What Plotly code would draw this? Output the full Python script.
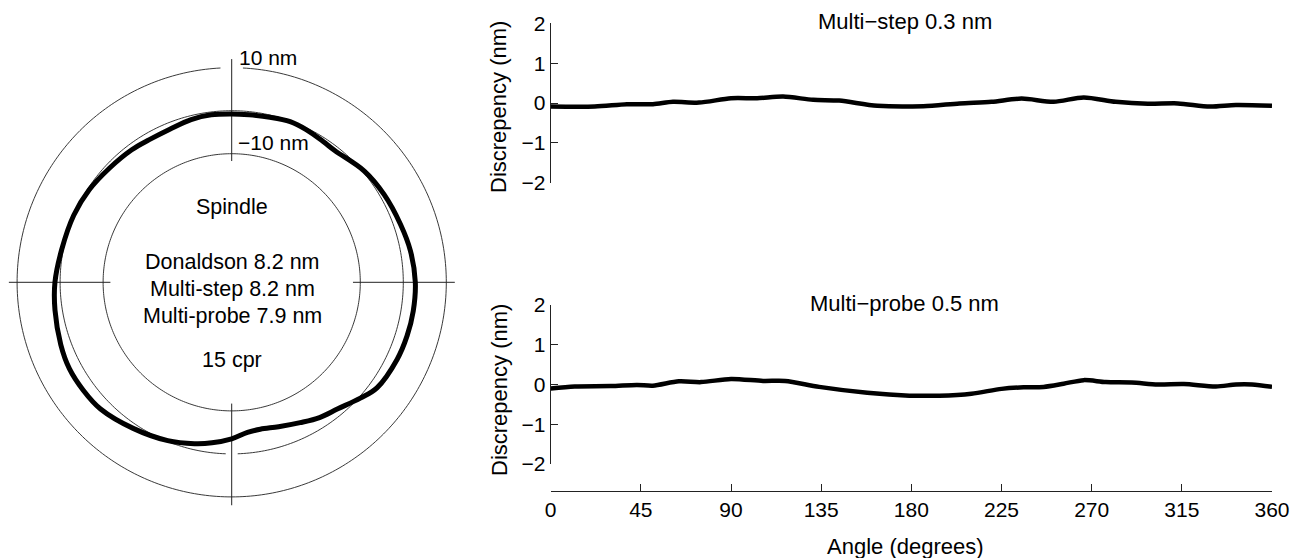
import plotly.graph_objects as go

# The page is shown with the browser's default 8 px body margin, so the
# figure is sized to the remaining area and positions are offset by 8 px.
OFF = 8
W, H = 1298 - OFF, 558 - OFF
FONT = "Liberation Sans, Arial, Helvetica, sans-serif"

# ---------------- data ----------------
# Spindle error profile (polar plot), angle in degrees, error in nm
profile_theta = [0, 10, 19, 30, 40, 52, 57, 64, 70, 77, 84, 90, 97, 104, 112, 120,
                 127, 137, 147, 157, 169, 180, 189, 200, 208, 216, 224, 236, 248,
                 257, 263, 270, 276, 281, 288, 296, 303, 310, 318, 324, 335, 343,
                 351, 360]
profile_err = [2.8, 2.3, 1.6, 1.0, 0.35, -1.0, -0.86, -0.4, -0.15, -0.5, -0.74,
               -0.74, -0.65, -0.9, -1.5, -1.6, -1.3, -1.0, -0.4, 0.0, 0.35, 1.2,
               1.7, 2.4, 2.85, 2.77, 2.5, 1.07, -0.2, -1.4, -2.3, -3.5, -4.8, -5.1,
               -4.6, -3.6, -2.4, -1.5, 0.35, 1.85, 2.53, 2.74, 2.84, 2.8]

ref_circles = [-10, 0, 10]          # nm reference circles
circle_gaps = {10: (87, 93), 0: (268, 272)}   # small breaks seen in the circles
cross_angles = [0, 90, 180, 270]    # crosshair directions
cross_r = [-11.7, 12]               # crosshair extent (nm)

# Multi-step discrepancy
ms_angle = [0, 22, 38, 51, 61, 74, 90, 103, 116, 131, 144, 163, 186, 204, 220,
            235, 251, 266, 282, 298, 313, 329, 342, 360]
ms_disc = [-0.09, -0.09, -0.03, -0.03, 0.03, 0.01, 0.12, 0.12, 0.16, 0.08, 0.06,
           -0.07, -0.08, -0.01, 0.03, 0.11, 0.03, 0.14, 0.03, -0.02, -0.01, -0.09,
           -0.05, -0.07]

# Multi-probe discrepancy
mp_angle = [0, 12, 30, 43, 51, 64, 75, 90, 106, 117, 134, 158, 179, 194, 210, 225,
            236, 246, 256, 266, 277, 290, 303, 316, 332, 342, 350, 360]
mp_disc = [-0.1, -0.05, -0.04, -0.01, -0.03, 0.08, 0.06, 0.14, 0.09, 0.09, -0.06,
           -0.21, -0.28, -0.28, -0.23, -0.11, -0.07, -0.06, 0.02, 0.11, 0.06, 0.05,
           0.0, 0.01, -0.05, 0.0, 0.0, -0.06]

x_ticks = [0, 45, 90, 135, 180, 225, 270, 315, 360]
y_ticks = [-2, -1, 0, 1, 2]

# ---------------- helpers (screen pixel -> paper) ----------------
def px(x):
    return (x - OFF) / W

def py(y):
    return 1 - (y - OFF) / H

fig = go.Figure()

for rc in ref_circles:
    g0, g1 = circle_gaps.get(rc, (None, None))
    th, rr = [], []
    for t in range(0, 361):
        if g0 is not None and g0 < t < g1:
            if th and th[-1] is not None:
                th.append(None)
                rr.append(None)
            continue
        th.append(t)
        rr.append(rc)
    fig.add_trace(go.Scatterpolar(theta=th, r=rr, mode="lines", connectgaps=False,
                                  line=dict(color="#222", width=0.9),
                                  hoverinfo="skip", showlegend=False, subplot="polar"))
for a in cross_angles:
    fig.add_trace(go.Scatterpolar(theta=[a, a], r=cross_r, mode="lines",
                                  line=dict(color="#222", width=1),
                                  hoverinfo="skip", showlegend=False, subplot="polar"))
fig.add_trace(go.Scatterpolar(theta=profile_theta, r=profile_err, mode="lines",
                              line=dict(color="black", width=5, shape="spline", smoothing=1),
                              showlegend=False, subplot="polar"))

fig.add_trace(go.Scatter(x=ms_angle, y=ms_disc, mode="lines",
                         line=dict(color="black", width=4.5, shape="spline", smoothing=0.8),
                         showlegend=False, xaxis="x", yaxis="y"))
fig.add_trace(go.Scatter(x=mp_angle, y=mp_disc, mode="lines",
                         line=dict(color="black", width=4.5, shape="spline", smoothing=0.8),
                         showlegend=False, xaxis="x2", yaxis="y2"))

# polar geometry (screen px): center (231.7, 282.3), radius 223.2 px
cx, cy, R = 231.7, 282.3, 223.2
polar = dict(
    domain=dict(x=[max(0, px(cx - R)), px(cx + R)], y=[py(cy + R), py(cy - R)]),
    bgcolor="white",
    radialaxis=dict(range=[-39.9, 12], visible=False, showgrid=False, showline=False),
    angularaxis=dict(visible=False, showgrid=False, showline=False,
                     rotation=0, direction="counterclockwise"),
)

x0p, x1p = 550.7, 1272.0
axis_common = dict(showgrid=False, zeroline=False, showline=True, linecolor="#222",
                   linewidth=1, ticks="inside", ticklen=7, tickcolor="#222",
                   automargin=False,
                   tickfont=dict(family=FONT, size=21, color="black"))

layout = dict(
    width=W, height=H,
    margin=dict(l=0, r=0, t=0, b=0, pad=0, autoexpand=False),
    paper_bgcolor="white", plot_bgcolor="white",
    polar=polar,
    xaxis=dict(domain=[px(x0p), px(x1p)], range=[0, 360], visible=False, anchor="y"),
    yaxis=dict(domain=[py(182.7), py(23.3)], range=[-2, 2], tickvals=y_ticks,
               anchor="x", **axis_common),
    xaxis2=dict(domain=[px(x0p), px(x1p)], range=[0, 360], tickvals=x_ticks,
                anchor="free", position=py(490.7), **axis_common),
    yaxis2=dict(domain=[py(464), py(305)], range=[-2, 2], tickvals=y_ticks,
                anchor="x2", **axis_common),
    showlegend=False,
)
fig.update_layout(**layout)

def ann(text, x, y, xanchor="center", size=21.5, angle=0):
    fig.add_annotation(text=text, x=px(x), y=py(y), xref="paper", yref="paper",
                       xanchor=xanchor, yanchor="middle", showarrow=False,
                       textangle=angle, font=dict(family=FONT, size=size, color="black"))

# polar labels
ann("10 nm", 237, 57, xanchor="left", size=21)
ann("\u221210 nm", 236, 142, xanchor="left", size=21)
ann("Spindle", 232, 207)
ann("Donaldson 8.2 nm", 232, 262)
ann("Multi-step 8.2 nm", 232, 289)
ann("Multi-probe 7.9 nm", 232, 316)
ann("15 cpr", 232, 360)

# right chart labels
ann("Multi\u2212step 0.3 nm", 905, 21, size=22)
ann("Multi\u2212probe 0.5 nm", 904, 303, size=22)
ann("Angle (degrees)", 906, 546, size=22)
ann("Discrepency (nm)", 499, 107, angle=-90, size=22)
ann("Discrepency (nm)", 499, 390, angle=-90, size=22)

fig.write_html("out.html")
